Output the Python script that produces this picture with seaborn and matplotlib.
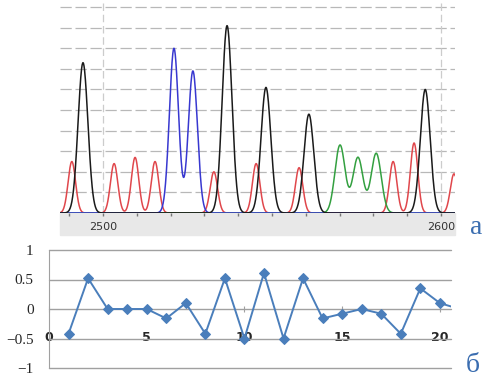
import numpy as np
import pandas as pd
import matplotlib
matplotlib.use("Agg")
import matplotlib.pyplot as plt
from matplotlib.patches import Rectangle
import seaborn as sns

# top panel: sequencing trace peaks (position, height) per channel
black_pos = [2494.1, 2536.7, 2548.2, 2560.9, 2595.3]
black_h = [7.3, 9.1, 6.1, 4.8, 6.0]
red_pos = [2490.8, 2503.3, 2509.5, 2515.4, 2532.8, 2545.3, 2558.0, 2585.8, 2592.0, 2603.8]
red_h = [2.5, 2.4, 2.7, 2.5, 2.0, 2.4, 2.2, 2.5, 3.4, 1.9]
blue_pos = [2521.0, 2526.6]
blue_h = [8.0, 6.9]
green_pos = [2570.1, 2575.4, 2580.8]
green_h = [3.3, 2.7, 2.9]

# bottom panel
idx = list(range(1, 22))
vals = [-0.42, 0.52, 0.0, 0.0, 0.0, -0.16, 0.1, -0.42, 0.52, -0.5,
        0.61, -0.5, 0.52, -0.16, -0.08, 0.0, -0.08, -0.42, 0.35, 0.1, 0.0]

sns.set_style("white")
plt.rcParams["font.family"] = ["DejaVu Sans"]

W, H = 486, 382
fig = plt.figure(figsize=(W / 100, H / 100), dpi=100)


def fr(x0, y0, x1, y1):
    return [x0 / W, 1 - y1 / H, (x1 - x0) / W, (y1 - y0) / H]


# ---- top panel ----
ax1 = fig.add_axes(fr(60, 3, 455, 213))
fig.add_artist(Rectangle((60 / W, 1 - 235 / H), 395 / W, 22 / H,
                         transform=fig.transFigure, color="#e8e8e8", zorder=0))

xs = np.linspace(2486, 2606, 1500)


def trace(pos, hts, sig):
    y = np.zeros_like(xs)
    for p, h in zip(pos, hts):
        y += h * np.exp(-(xs - p) ** 2 / (2 * sig ** 2))
    return y


channels = [
    (red_pos, red_h, 1.1, "#e0474c"),
    (green_pos, green_h, 1.5, "#33a040"),
    (blue_pos, blue_h, 1.35, "#3838d0"),
    (black_pos, black_h, 1.45, "#1a1a1a"),
]
for pos, hts, sig, col in channels:
    d = pd.DataFrame({"x": xs, "y": trace(pos, hts, sig)})
    sns.lineplot(data=d, x="x", y="y", color=col, lw=1.1, ax=ax1, zorder=3)

ax1.set_xlim(2487.3, 2604.1)
ax1.set_ylim(0, 10.2)
for g in range(1, 11):
    ax1.axhline(g, color="#b8b8b8", lw=0.9, ls=(0, (9, 3)), zorder=1)
for v in [2500, 2600]:
    ax1.axvline(v, color="#cccccc", lw=0.9, ls=(0, (6, 3)), zorder=1)
ax1.axhline(0, color="#999999", lw=1, zorder=2)
for s in ax1.spines.values():
    s.set_visible(False)
ax1.set_yticks([])
ticks = list(range(2490, 2601, 10))
ax1.set_xticks(ticks)
ax1.set_xticklabels([str(t) if t in (2500, 2600) else "" for t in ticks],
                    fontsize=8, color="#333333")
ax1.tick_params(axis="x", direction="out", length=2.5, width=1,
                color="#777777", pad=4, bottom=True)
ax1.set_xlabel("")
ax1.set_ylabel("")

# ---- bottom panel ----
ax2 = fig.add_axes(fr(49, 250, 451, 368))
sns.lineplot(x=idx, y=vals, ax=ax2, color="#4a7ebb", lw=1.4, marker="D",
             markersize=5, markeredgecolor="#4a7ebb", zorder=3)
ax2.set_xlim(0, 20.57)
ax2.set_ylim(-1, 1)
yt = [-1, -0.5, 0, 0.5, 1]
for g in yt:
    ax2.axhline(g, color="#a0a0a0", lw=1, zorder=1, clip_on=False)
for k in ["top", "right"]:
    ax2.spines[k].set_visible(False)
ax2.spines["left"].set_color("#a0a0a0")
ax2.spines["bottom"].set_position(("data", 0))
ax2.spines["bottom"].set_visible(False)
ax2.set_yticks(yt)
ax2.set_yticklabels(["\u22121", "\u22120.5", "0", "0.5", "1"],
                    family=["Liberation Serif"], fontsize=11)
ax2.tick_params(axis="y", length=0, pad=11)
ax2.set_xticks([0, 5, 10, 15, 20])
ax2.set_xticklabels(["0", "5", "10", "15", "20"], fontweight="bold", fontsize=9)
ax2.tick_params(axis="x", direction="inout", length=4, color="#a0a0a0",
                pad=14, bottom=True)

fig.text(476 / W, 1 - 228 / H, "а", family=["Liberation Serif"], fontsize=20,
         color="#3a6db0", ha="center", va="center")
fig.text(473 / W, 1 - 366 / H, "б", family=["Liberation Serif"], fontsize=20,
         color="#3a6db0", ha="center", va="center")

fig.savefig("out.png", dpi=100)
